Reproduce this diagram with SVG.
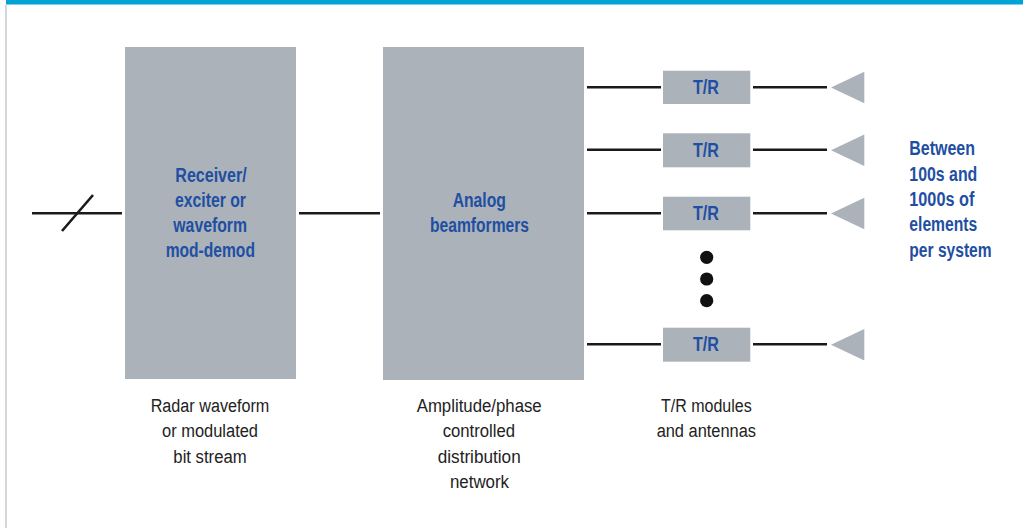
<svg xmlns="http://www.w3.org/2000/svg" width="1023" height="528" viewBox="0 0 1023 528">
  <style>
    .block { fill: #abb2b9; }
    .wire { stroke: #1a1a1a; stroke-width: 2.6; fill: none; }
    .ant { fill: #abb2b9; }
    .lbl { font-family: "Liberation Sans", Arial, sans-serif; font-weight: bold; font-size: 20px; fill: #1f4fa3; text-anchor: middle; }
    .side { font-family: "Liberation Sans", Arial, sans-serif; font-weight: bold; font-size: 20px; fill: #1f4fa3; }
    .cap { font-family: "Liberation Sans", Arial, sans-serif; font-size: 18px; fill: #222; text-anchor: middle; }
  </style>

  <!-- page background, header band and left rule -->
  <rect x="0" y="0" width="1023" height="528" fill="#ffffff"/>
  <rect x="6" y="0" width="1017" height="4.5" fill="#00a3d6"/>
  <rect x="5" y="4.5" width="2" height="523.5" fill="#d3d7db"/>

  <!-- connectors -->
  <g id="connectors">
    <line class="wire" x1="32" y1="213.3" x2="122" y2="213.3"/>
    <line class="wire" x1="62" y1="231" x2="93" y2="195"/>
    <line class="wire" x1="299" y1="213.3" x2="380" y2="213.3"/>

    <line class="wire" x1="587" y1="87.3" x2="661" y2="87.3"/>
    <line class="wire" x1="753" y1="87.3" x2="827" y2="87.3"/>
    <line class="wire" x1="587" y1="149.8" x2="661" y2="149.8"/>
    <line class="wire" x1="753" y1="149.8" x2="827" y2="149.8"/>
    <line class="wire" x1="587" y1="213.3" x2="661" y2="213.3"/>
    <line class="wire" x1="753" y1="213.3" x2="827" y2="213.3"/>
    <line class="wire" x1="587" y1="344.3" x2="661" y2="344.3"/>
    <line class="wire" x1="753" y1="344.3" x2="827" y2="344.3"/>
  </g>

  <!-- receiver / exciter block -->
  <g id="receiver">
    <rect class="block" x="125" y="47" width="171" height="332"/>
    <text class="lbl" x="211" y="181.7" textLength="71.3" lengthAdjust="spacingAndGlyphs">Receiver/</text>
    <text class="lbl" x="210.5" y="206.7" textLength="71" lengthAdjust="spacingAndGlyphs">exciter or</text>
    <text class="lbl" x="210.2" y="231.7" textLength="73.7" lengthAdjust="spacingAndGlyphs">waveform</text>
    <text class="lbl" x="210.3" y="257" textLength="89.3" lengthAdjust="spacingAndGlyphs">mod-demod</text>
  </g>

  <!-- analog beamformer block -->
  <g id="beamformers">
    <rect class="block" x="383" y="47" width="201" height="333"/>
    <text class="lbl" x="479.3" y="207.3" textLength="53.3" lengthAdjust="spacingAndGlyphs">Analog</text>
    <text class="lbl" x="479.5" y="232.3" textLength="99" lengthAdjust="spacingAndGlyphs">beamformers</text>
  </g>

  <!-- T/R modules -->
  <g id="tr1">
    <rect class="block" x="663" y="70.7" width="87.3" height="33.3"/>
    <text class="lbl" x="706" y="94" textLength="26" lengthAdjust="spacingAndGlyphs">T/R</text>
  </g>
  <g id="tr2">
    <rect class="block" x="663" y="133.3" width="87.3" height="34"/>
    <text class="lbl" x="706" y="157" textLength="26" lengthAdjust="spacingAndGlyphs">T/R</text>
  </g>
  <g id="tr3">
    <rect class="block" x="663" y="196.7" width="87.3" height="33.6"/>
    <text class="lbl" x="706" y="220.3" textLength="26" lengthAdjust="spacingAndGlyphs">T/R</text>
  </g>
  <g id="tr4">
    <rect class="block" x="663" y="327.7" width="87.3" height="34"/>
    <text class="lbl" x="706" y="351.3" textLength="26" lengthAdjust="spacingAndGlyphs">T/R</text>
  </g>

  <!-- ellipsis between modules -->
  <g id="ellipsis" fill="#111">
    <circle cx="706.7" cy="257.3" r="6.6"/>
    <circle cx="706.7" cy="279" r="6.6"/>
    <circle cx="706.7" cy="300.7" r="6.6"/>
  </g>

  <!-- antenna elements -->
  <g id="antennas">
    <polygon class="ant" points="831,87.5 864.3,71.7 864.3,103.3"/>
    <polygon class="ant" points="831,150.3 864.3,134.5 864.3,166.1"/>
    <polygon class="ant" points="831,213.5 864.3,197.7 864.3,229.3"/>
    <polygon class="ant" points="831,344.7 864.3,328.9 864.3,360.5"/>
  </g>

  <!-- element count note -->
  <g id="element-note">
    <text class="side" x="909.3" y="155" textLength="65.7" lengthAdjust="spacingAndGlyphs">Between</text>
    <text class="side" x="909.3" y="180.7" textLength="68" lengthAdjust="spacingAndGlyphs">100s and</text>
    <text class="side" x="909.3" y="205.7" textLength="65" lengthAdjust="spacingAndGlyphs">1000s of</text>
    <text class="side" x="909.3" y="231" textLength="68" lengthAdjust="spacingAndGlyphs">elements</text>
    <text class="side" x="909.3" y="256.7" textLength="82.3" lengthAdjust="spacingAndGlyphs">per system</text>
  </g>

  <!-- captions -->
  <g id="captions">
    <text class="cap" x="210" y="412.3" textLength="118.7" lengthAdjust="spacingAndGlyphs">Radar waveform</text>
    <text class="cap" x="210" y="437.3" textLength="96" lengthAdjust="spacingAndGlyphs">or modulated</text>
    <text class="cap" x="210" y="463.3" textLength="73.3" lengthAdjust="spacingAndGlyphs">bit stream</text>

    <text class="cap" x="479.2" y="412.3" textLength="125" lengthAdjust="spacingAndGlyphs">Amplitude/phase</text>
    <text class="cap" x="478.8" y="437.3" textLength="72.3" lengthAdjust="spacingAndGlyphs">controlled</text>
    <text class="cap" x="479.2" y="463.3" textLength="83" lengthAdjust="spacingAndGlyphs">distribution</text>
    <text class="cap" x="479.5" y="488.3" textLength="59" lengthAdjust="spacingAndGlyphs">network</text>

    <text class="cap" x="706.3" y="412.3" textLength="90.7" lengthAdjust="spacingAndGlyphs">T/R modules</text>
    <text class="cap" x="706.3" y="437.3" textLength="99.3" lengthAdjust="spacingAndGlyphs">and antennas</text>
  </g>
</svg>
